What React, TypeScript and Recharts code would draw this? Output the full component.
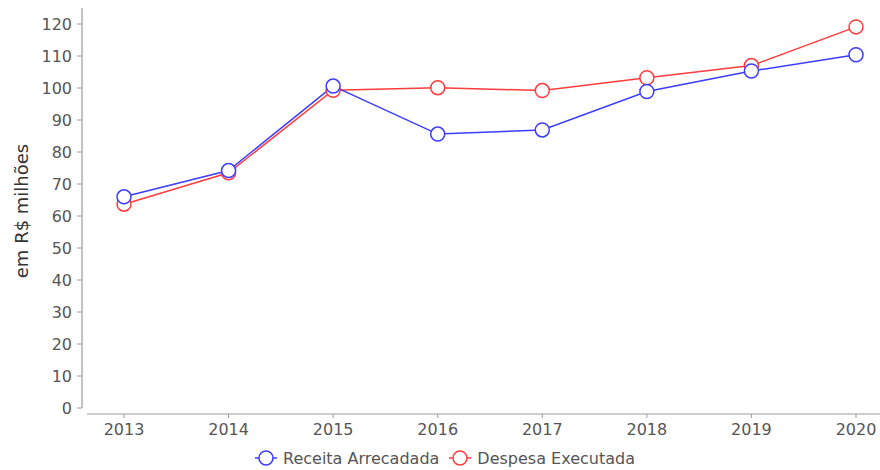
import { CartesianGrid, Legend, Line, LineChart, XAxis, YAxis } from "recharts";

// ── data ────────────────────────────────────────────────────────────────────

const years = ["2013", "2014", "2015", "2016", "2017", "2018", "2019", "2020"];
const receita = [66.0, 74.2, 100.6, 85.6, 86.9, 98.9, 105.3, 110.4];
const despesa = [63.7, 73.5, 99.3, 100.1, 99.2, 103.2, 107.0, 119.1];
const yTicks = [0, 10, 20, 30, 40, 50, 60, 70, 80, 90, 100, 110, 120];

const BLUE = "#3c3cff";
const RED = "#ff3c3c";
const FONT = "'DejaVu Sans', Verdana, sans-serif";

const data = years.map((year, i) => ({ year, receita: receita[i], despesa: despesa[i] }));

const series = [
  { key: "receita", name: "Receita Arrecadada", color: BLUE },
  { key: "despesa", name: "Despesa Executada", color: RED },
];

// ── legend ──────────────────────────────────────────────────────────────────

function LegendIcon({ color }: { color: string }) {
  return (
    <svg width={22} height={16} style={{ marginRight: 6 }}>
      <line x1={0} y1={8} x2={22} y2={8} stroke={color} strokeWidth={1.5} />
      <circle cx={11} cy={8} r={7} fill="#fff" stroke={color} strokeWidth={1.5} />
    </svg>
  );
}

function ChartLegend() {
  return (
    <div
      style={{
        height: 24,
        display: "flex",
        justifyContent: "center",
        alignItems: "center",
        fontFamily: FONT,
        fontSize: 16,
        color: "#555",
        paddingLeft: 20,
      }}
    >
      {series.map((s) => (
        <span key={s.key} style={{ display: "flex", alignItems: "center", marginRight: 10 }}>
          <LegendIcon color={s.color} />
          {s.name}
        </span>
      ))}
    </div>
  );
}

// ── App ─────────────────────────────────────────────────────────────────────

export default function App() {
  return (
    <div style={{ position: "absolute", left: 0, top: 0, background: "#fff" }}>
      <LineChart width={880} height={470} data={data} margin={{ top: 8, right: 0, bottom: 0, left: 0 }}>
        <CartesianGrid stroke="none" />
        <XAxis
          dataKey="year"
          padding={{ left: 42, right: 24 }}
          height={38}
          axisLine={{ stroke: "#999", strokeWidth: 1.2, strokeDasharray: "0 5 2000", transform: "translate(0,6)" }}
          tickLine={{ stroke: "#999", transform: "translate(0,6)" }}
          tickSize={4}
          tickMargin={12}
          tick={{ fill: "#555", fontSize: 16, fontFamily: FONT }}
        />
        <YAxis
          domain={[0, 125]}
          ticks={yTicks}
          width={82}
          axisLine={{ stroke: "#999", strokeWidth: 1.2 }}
          tickLine={{ stroke: "#999" }}
          tickSize={5}
          tickMargin={5}
          tick={{ fill: "#555", fontSize: 16, fontFamily: FONT }}
          label={{
            value: "em R$ milhões",
            angle: -90,
            position: "insideLeft",
            dx: 17,
            dy: 3,
            style: { fill: "#333", fontSize: 18, fontFamily: FONT, textAnchor: "middle" },
          }}
        />
        <Legend verticalAlign="bottom" content={<ChartLegend />} />
        {/* red first so the blue markers sit on top, as in the source */}
        <Line
          dataKey="despesa"
          name="Despesa Executada"
          stroke={RED}
          strokeWidth={1.5}
          dot={{ r: 7, fill: "#fff", stroke: RED, strokeWidth: 1.5 }}
          activeDot={false}
          isAnimationActive={false}
        />
        <Line
          dataKey="receita"
          name="Receita Arrecadada"
          stroke={BLUE}
          strokeWidth={1.5}
          dot={{ r: 7, fill: "#fff", stroke: BLUE, strokeWidth: 1.5 }}
          activeDot={false}
          isAnimationActive={false}
        />
      </LineChart>
    </div>
  );
}
